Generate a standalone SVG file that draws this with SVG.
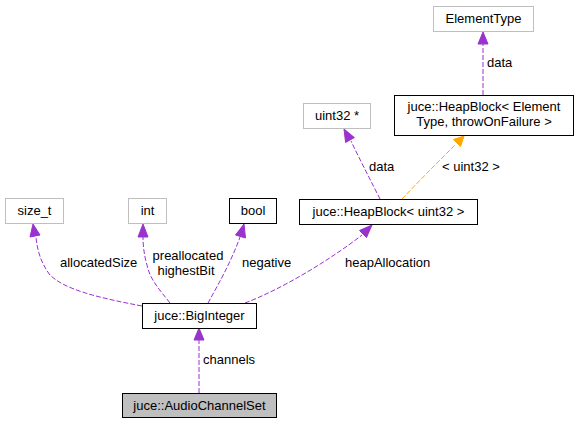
<svg xmlns="http://www.w3.org/2000/svg" width="578" height="424" viewBox="0 0 578 424">
<style>
text{font-family:"Liberation Sans",Arial,sans-serif;font-size:13px;fill:#000}
.c{text-anchor:middle}
.n{fill:#fff;stroke:#000;stroke-width:1}
.g{fill:#fff;stroke:#bfbfbf;stroke-width:1}
.e{fill:none;stroke:#9a32cd;stroke-width:1;stroke-dasharray:5,2}
.o{fill:none;stroke:#ffa500;stroke-width:1;stroke-dasharray:5,2}
.ah{fill:#9a32cd;stroke:#9a32cd}
.oh{fill:#ffa500;stroke:#ffa500}
</style>
<rect width="578" height="424" fill="#fff"/>
<g id="connectors">
<path class="e" d="M199,393 V340"/>
<polygon class="ah" points="199,328 194,340 204,340"/>
<text x="203" y="364">channels</text>
<path class="e" d="M142,306 C100,298 65,290 50,275 C40,262 37,248 36,237"/>
<polygon class="ah" points="33,224 30,237 40,235"/>
<text x="60" y="267">allocatedSize</text>
<path class="e" d="M170,303 C160,290 150,280 147,265 C144,255 143,245 143,237"/>
<polygon class="ah" points="143,224 138,237 148,237"/>
<text class="c" x="188" y="260">preallocated</text>
<text class="c" x="186" y="275">highestBit</text>
<path class="e" d="M208,303 C218,285 232,260 240,237"/>
<polygon class="ah" points="244,224 235.5,235 245.5,238"/>
<text x="242" y="267">negative</text>
<path class="e" d="M245,303 C280,290 330,260 362,235"/>
<polygon class="ah" points="372,225 359.5,230.5 366.5,237.5"/>
<text x="345" y="267">heapAllocation</text>
<path class="e" d="M380,199 C372,183 360,160 351,141"/>
<polygon class="ah" points="344,129 345.6,142.4 354.4,137.6"/>
<text x="369" y="171">data</text>
<path class="o" d="M402,199 C420,180 440,160 456,144"/>
<polygon class="oh" points="464,136 453.5,139.5 460.5,146.5"/>
<text x="442" y="171">&lt; uint32 &gt;</text>
<path class="e" d="M483,95 V44"/>
<polygon class="ah" points="483,32 478,44 488,44"/>
<text x="487" y="67">data</text>
</g>
<g id="node_AudioChannelSet">
<rect x="122.5" y="393.5" width="154" height="24" fill="#bfbfbf" stroke="#000"/>
<text class="c" x="199.5" y="410">juce::AudioChannelSet</text>
</g>
<g id="node_BigInteger">
<rect class="n" x="142.5" y="303.5" width="114" height="25"/>
<text class="c" x="199.5" y="320">juce::BigInteger</text>
</g>
<g id="node_size_t">
<rect class="g" x="5.5" y="198.5" width="58" height="25"/>
<text class="c" x="34.5" y="215">size_t</text>
</g>
<g id="node_int">
<rect class="g" x="128.5" y="198.5" width="38" height="25"/>
<text class="c" x="147.5" y="215">int</text>
</g>
<g id="node_bool">
<rect class="n" x="229.5" y="198.5" width="47" height="25"/>
<text class="c" x="253" y="215">bool</text>
</g>
<g id="node_HeapBlock_uint32">
<rect class="n" x="299.5" y="199.5" width="178" height="25"/>
<text class="c" x="388.5" y="216">juce::HeapBlock&lt; uint32 &gt;</text>
</g>
<g id="node_uint32_ptr">
<rect class="g" x="303.5" y="103.5" width="67" height="25"/>
<text class="c" x="337" y="120">uint32 *</text>
</g>
<g id="node_HeapBlock_ET">
<rect class="n" x="394.5" y="95.5" width="179" height="40"/>
<text class="c" x="484" y="111">juce::HeapBlock&lt; Element</text>
<text class="c" x="484" y="126">Type, throwOnFailure &gt;</text>
</g>
<g id="node_ElementType">
<rect class="g" x="433.5" y="6.5" width="100" height="25"/>
<text class="c" x="483.5" y="23">ElementType</text>
</g>
</svg>
